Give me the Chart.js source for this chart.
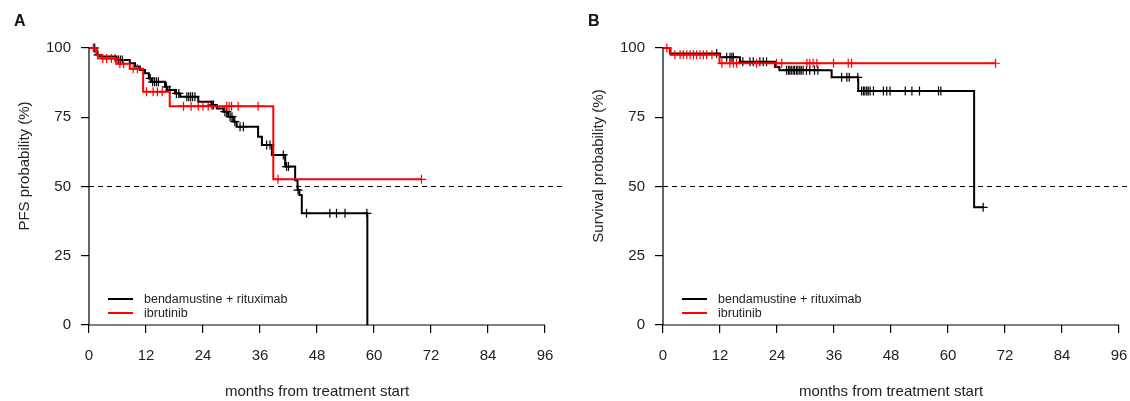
<!DOCTYPE html>
<html lang="en">
<head>
<meta charset="UTF-8">
<title>PFS and OS</title>
<style>
  body { margin: 0; background: #fff; overflow: hidden; }
  .wrap { position: relative; width: 1130px; height: 401px; overflow: hidden; font-family: "Liberation Sans", Arial, sans-serif; }
  .panel { position: absolute; top: 0; }
  .tag { position: absolute; top: 12px; font-weight: bold; font-size: 16px; color: #111; }
</style>
</head>
<body>
<div class="wrap">
  <canvas id="chartA" class="panel" width="575" height="401" style="left:0"></canvas>
  <canvas id="chartB" class="panel" width="575" height="401" style="left:574px"></canvas>
  <div class="tag" style="left:14px">A</div>
  <div class="tag" style="left:588px">B</div>
</div>

<script src="https://cdn.jsdelivr.net/npm/chart.js"></script>
<script>
// axis ticks
const xTicks = [0, 12, 24, 36, 48, 60, 72, 84, 96];
const yTicks = [0, 25, 50, 75, 100];
const seriesLabels = ['bendamustine + rituximab', 'ibrutinib'];

// panel A - PFS, step times (months) and survival (%)
const pfsBrTime = [0, 1.6, 2.3, 5.8, 8.6, 9.7, 10.7, 11.8, 12.6, 13.2, 16, 16.5, 18.1, 19.2, 23, 25.8, 26.9, 28.3, 29.3, 30.4, 31.1, 35.6, 36.4, 38.5, 41.3, 43.4, 43.9, 44.3, 44.8, 58.6];
const pfsBrProb = [100, 97.5, 96.9, 95.7, 94.5, 93.3, 92.1, 90.9, 89.0, 87.8, 86.0, 84.8, 83.6, 82.4, 80.6, 79.4, 78.2, 77.0, 75.2, 73.4, 71.6, 68.0, 65.0, 61.4, 57.2, 52.3, 48.7, 46.9, 40.3, 0];
const pfsBrCens = [1.2, 1.9, 6.2, 6.6, 7.0, 12.9, 13.4, 13.8, 14.2, 14.6, 16.3, 17, 18.4, 18.9, 20.6, 21, 21.4, 21.8, 22.3, 25.9, 26.2, 28.6, 29, 29.7, 30.1, 30.7, 31.8, 32.5, 37.4, 38.1, 40.9, 41.6, 42, 44, 45.8, 50.7, 52.1, 53.9, 58.5];

const pfsIbrTime = [0, 1.6, 2.7, 5.8, 8.6, 11.4, 17, 38.8, 70];
const pfsIbrProb = [100, 97.4, 96.2, 94.3, 92.5, 84.2, 79.0, 52.6, 52.6];
const pfsIbrCens = [0.9, 2.9, 3.7, 4.7, 5.5, 6.5, 7.3, 9.3, 10.2, 12.1, 13.5, 14.4, 15.4, 19.9, 21.5, 23, 24, 25.1, 29, 29.5, 30, 31.4, 35.6, 39.8, 70];

// panel B - overall survival
const osBrTime = [0, 1.5, 12, 16.2, 23.6, 24.5, 35.5, 41.1, 65.5, 67.4];
const osBrProb = [100, 98.0, 96.7, 95.0, 93.1, 92.0, 89.4, 84.5, 42.5, 42.5];
const osBrCens = [11.3, 13.4, 14.1, 14.5, 14.8, 16.8, 18.3, 19, 20.4, 21.1, 21.8, 26, 26.4, 26.7, 27, 27.4, 27.7, 28.1, 28.4, 28.8, 29.1, 29.5, 30.2, 30.9, 31.9, 32.6, 37.6, 38.7, 39.2, 41, 41.8, 42.2, 42.5, 42.9, 43.2, 43.6, 44.3, 46.4, 47.1, 47.8, 51, 52.4, 54, 58, 58.5, 67.4];

const osIbrTime = [0, 1.6, 11.9, 70];
const osIbrProb = [100, 97.6, 94.5, 94.5];
const osIbrCens = [0.8, 2.5, 3.6, 4.3, 5, 5.7, 6.4, 7.1, 7.8, 8.5, 9.2, 10.3, 12.4, 14.1, 14.8, 15.5, 19.7, 23.9, 25, 30.3, 30.9, 31.6, 32.4, 35.9, 39, 39.7, 70];

const refLine = [0, 100];   // x range of the dashed 50% line
const refLevel = 50;

function survAt(times, probs, t) {
    let v = probs[0];
    for (let i = 0; i < times.length; i++) {
        if (times[i] <= t) v = probs[i];
    }
    return v;
}

const font = '"Liberation Sans", Arial, sans-serif';
const ink = '#222';
const colors = ['#000000', '#ff0000'];

const kmDecor = {
    id: 'kmDecor',
    afterDraw(chart, args, opts) {
        const { ctx, chartArea } = chart;
        const xs = chart.scales.x, ys = chart.scales.y;
        ctx.save();
        ctx.strokeStyle = '#000';
        ctx.lineWidth = 1.2;
        // axis lines
        ctx.beginPath();
        ctx.moveTo(xs.getPixelForValue(0), chartArea.bottom);
        ctx.lineTo(xs.getPixelForValue(96), chartArea.bottom);
        ctx.moveTo(chartArea.left, ys.getPixelForValue(0));
        ctx.lineTo(chartArea.left, ys.getPixelForValue(100));
        ctx.stroke();

        // axis titles
        ctx.fillStyle = ink;
        ctx.font = '15px ' + font;
        ctx.textAlign = 'center';
        ctx.textBaseline = 'middle';
        const midX = (xs.getPixelForValue(0) + xs.getPixelForValue(96)) / 2;
        ctx.fillText('months from treatment start', midX, 392);
        ctx.save();
        ctx.translate(25, 166);
        ctx.rotate(-Math.PI / 2);
        ctx.fillText(opts.yTitle, 0, 0);
        ctx.restore();

        // legend
        ctx.font = '12.5px ' + font;
        ctx.textAlign = 'left';
        seriesLabels.forEach((lab, i) => {
            const y = 299 + i * 14;
            ctx.strokeStyle = colors[i];
            ctx.lineWidth = 2;
            ctx.beginPath();
            ctx.moveTo(chartArea.left + 19, y);
            ctx.lineTo(chartArea.left + 44, y);
            ctx.stroke();
            ctx.fillStyle = ink;
            ctx.fillText(lab, chartArea.left + 55, y + 1);
        });
        ctx.restore();
    }
};

function makeKM(id, yTitle, br, ibr) {
    const line = (time, prob, col, order) => ({
        type: 'line',
        data: time.map((t, i) => ({ x: t, y: prob[i] })),
        borderColor: col,
        borderWidth: 2,
        stepped: 'before',
        pointRadius: 0,
        fill: false,
        clip: false,
        order: order
    });
    const marks = (time, prob, cens, col, order) => ({
        type: 'scatter',
        data: cens.map(t => ({ x: t, y: survAt(time, prob, t) })),
        borderColor: col,
        backgroundColor: col,
        pointStyle: 'cross',
        pointRadius: 4.5,
        pointBorderWidth: 1.2,
        showLine: false,
        clip: false,
        order: order
    });
    return new Chart(document.getElementById(id), {
        type: 'line',
        data: {
            datasets: [
                {
                    type: 'line',
                    data: refLine.map(x => ({ x: x, y: refLevel })),
                    borderColor: '#000',
                    borderWidth: 1.2,
                    borderDash: [5, 4],
                    pointRadius: 0,
                    order: 10
                },
                line(br[0], br[1], colors[0], 5),
                marks(br[0], br[1], br[2], colors[0], 4),
                line(ibr[0], ibr[1], colors[1], 3),
                marks(ibr[0], ibr[1], ibr[2], colors[1], 2)
            ]
        },
        options: {
            responsive: false,
            animation: false,
            layout: { padding: { top: 48, right: 11, bottom: 0, left: 0 } },
            plugins: {
                legend: { display: false },
                tooltip: { enabled: false },
                kmDecor: { yTitle: yTitle }
            },
            scales: {
                x: {
                    type: 'linear',
                    min: 0,
                    max: 100,
                    afterBuildTicks: s => { s.ticks = xTicks.map(v => ({ value: v })); },
                    afterFit: s => { s.height = 76; },
                    border: { display: false },
                    grid: { drawOnChartArea: false, drawTicks: true, tickLength: 8, color: '#000', lineWidth: 1.2 },
                    ticks: { font: { family: font, size: 15 }, color: ink, padding: 14, maxRotation: 0 }
                },
                y: {
                    type: 'linear',
                    min: 0,
                    max: 100,
                    afterBuildTicks: s => { s.ticks = yTicks.map(v => ({ value: v })); },
                    afterFit: s => { s.width = 89; },
                    border: { display: false },
                    grid: { drawOnChartArea: false, drawTicks: true, tickLength: 8, color: '#000', lineWidth: 1.2 },
                    ticks: { font: { family: font, size: 15 }, color: ink, padding: 10 }
                }
            }
        },
        plugins: [kmDecor]
    });
}

makeKM('chartA', 'PFS probability (%)', [pfsBrTime, pfsBrProb, pfsBrCens], [pfsIbrTime, pfsIbrProb, pfsIbrCens]);
makeKM('chartB', 'Survival probability (%)', [osBrTime, osBrProb, osBrCens], [osIbrTime, osIbrProb, osIbrCens]);
</script>
</body>
</html>
